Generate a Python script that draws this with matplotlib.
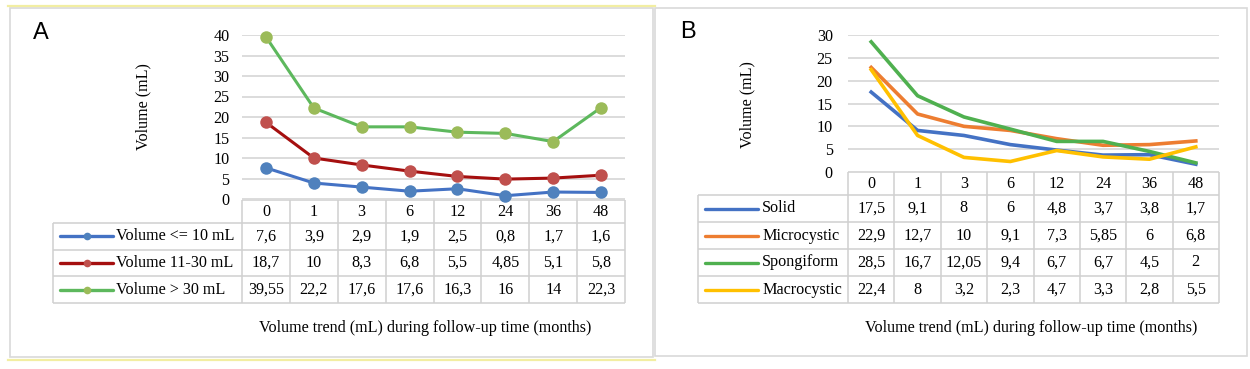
import matplotlib.pyplot as plt
from matplotlib.patches import Rectangle

# data
months = ['0', '1', '3', '6', '12', '24', '36', '48']

size_labels = ['Volume <= 10 mL', 'Volume 11-30 mL', 'Volume > 30 mL']
vol_small = [7.6, 3.9, 2.9, 1.9, 2.5, 0.8, 1.7, 1.6]
vol_mid = [18.7, 10, 8.3, 6.8, 5.5, 4.85, 5.1, 5.8]
vol_large = [39.55, 22.2, 17.6, 17.6, 16.3, 16, 14, 22.3]

type_labels = ['Solid', 'Microcystic', 'Spongiform', 'Macrocystic']
solid = [17.5, 9.1, 8, 6, 4.8, 3.7, 3.8, 1.7]
microcystic = [22.9, 12.7, 10, 9.1, 7.3, 5.85, 6, 6.8]
spongiform = [28.5, 16.7, 12.05, 9.4, 6.7, 6.7, 4.5, 2]
macrocystic = [22.4, 8, 3.2, 2.3, 4.7, 3.3, 2.8, 5.5]

W, H = 1250, 369
SERIF = ['Liberation Serif', 'DejaVu Serif']
FS = 11.6
GRID = '#D9D9D9'
TABLE = '#D0D0D0'

fig = plt.figure(figsize=(W / 100, H / 100), dpi=100)

# overlay axes in pixel coordinates for frames and the data tables
ov = fig.add_axes([0, 0, 1, 1], zorder=1)
ov.set_xlim(0, W)
ov.set_ylim(H, 0)
ov.axis('off')


def fmt(v):
    return f'{v:g}'.replace('.', ',')


def plot_axes(left, right, top, bottom):
    ax = fig.add_axes([left / W, 1 - bottom / H, (right - left) / W, (bottom - top) / H], zorder=5)
    ax.patch.set_alpha(0)
    for s in ax.spines.values():
        s.set_visible(False)
    ax.set_xlim(-0.5, len(months) - 0.5)
    ax.set_xticks([])
    ax.tick_params(axis='y', length=0, labelsize=FS)
    ax.grid(axis='y', color=GRID, lw=1.3)
    ax.set_axisbelow(True)
    return ax


def draw_table(leg_left, x0, x1, top, head_h, row_h, labels, series, colors, swatch, text_x, marker_colors=None):
    n = len(months)
    edges = [x0 + (x1 - x0) * i / n for i in range(n + 1)]
    y_rows = [top + head_h + row_h * i for i in range(len(series) + 1)]
    kw = dict(color=TABLE, lw=1.1, solid_capstyle='butt')
    # header row
    ov.plot([x0, x1], [top, top], **kw)
    for e in edges:
        ov.plot([e, e], [top, y_rows[-1]], **kw)
    for i, m in enumerate(months):
        ov.text((edges[i] + edges[i + 1]) / 2, top + head_h / 2 + 1, m, ha='center', va='center',
                fontsize=FS, family=SERIF)
    # body rows
    for y in y_rows:
        ov.plot([leg_left, x1], [y, y], **kw)
    ov.plot([leg_left, leg_left], [y_rows[0], y_rows[-1]], **kw)
    for r, (lab, vals, col) in enumerate(zip(labels, series, colors)):
        yc = (y_rows[r] + y_rows[r + 1]) / 2
        ov.plot(swatch, [yc, yc], color=col, lw=2.4, solid_capstyle='round')
        if marker_colors:
            ov.plot([(swatch[0] + swatch[1]) / 2], [yc], 'o', ms=5.5, color=marker_colors[r], mew=0)
        ov.text(text_x, yc, lab, ha='left', va='center', fontsize=FS, family=SERIF)
        for i, v in enumerate(vals):
            ov.text((edges[i] + edges[i + 1]) / 2, yc, fmt(v), ha='center', va='center',
                    fontsize=FS, family=SERIF)


# panel frames
ov.add_patch(Rectangle((9.5, 7.5), 643, 349.5, fill=False, ec=GRID, lw=1.2))
ov.add_patch(Rectangle((654.5, 7.5), 592, 348.5, fill=False, ec=GRID, lw=1.2))
ov.plot([8, 655], [5.5, 5.5], color='#F2EEA2', lw=1.6)
ov.plot([8, 655], [359.5, 359.5], color='#F2EEA2', lw=1.6)

# ---- panel A
axA = plot_axes(242, 625, 35, 199)
axA.set_ylim(0, 40)
axA.set_yticks(range(0, 41, 5))
axA.tick_params(axis='y', pad=9)
for lab in axA.get_yticklabels():
    lab.set_family(SERIF)
lineA = ['#4472C4', '#A50F0F', '#5DB85D']
markA = ['#4F81BD', '#C0504D', '#9BBB59']
x = range(len(months))
for vals, lc, mc in zip([vol_small, vol_mid, vol_large], lineA, markA):
    axA.plot(x, vals, color=lc, lw=2.2, marker='o', ms=9, mfc=mc, mec=mc, mew=0, clip_on=False)

ov.text(33, 33, 'A', fontsize=17, family=['Liberation Sans', 'DejaVu Sans'], va='center', ha='left')
ov.text(143, 107, 'Volume (mL)', rotation=90, ha='center', va='center', fontsize=FS, family=SERIF)
draw_table(53, 242, 625, 200, 23, 26.7, size_labels, [vol_small, vol_mid, vol_large], lineA,
           (60, 113), 116, marker_colors=markA)
ov.text(425, 328, 'Volume trend (mL) during follow-up time (months)', ha='center', va='center',
        fontsize=FS, family=SERIF)

# ---- panel B
axB = plot_axes(848, 1219, 35, 172)
axB.set_ylim(0, 30)
axB.set_yticks(range(0, 31, 5))
axB.tick_params(axis='y', pad=11)
for lab in axB.get_yticklabels():
    lab.set_family(SERIF)
lineB = ['#4472C4', '#ED7D31', '#4FB04F', '#FFC000']
for vals, lc in zip([solid, microcystic, spongiform, macrocystic], lineB):
    axB.plot(x, vals, color=lc, lw=2.6, solid_joinstyle='round', clip_on=False)

ov.text(680, 32, 'B', fontsize=17, family=['Liberation Sans', 'DejaVu Sans'], va='center', ha='left')
ov.text(747, 105, 'Volume (mL)', rotation=90, ha='center', va='center', fontsize=FS, family=SERIF)
draw_table(698, 848, 1219, 172, 23, 27, type_labels, [solid, microcystic, spongiform, macrocystic],
           lineB, (705, 758), 762)
ov.text(1031, 328, 'Volume trend (mL) during follow-up time (months)', ha='center', va='center',
        fontsize=FS, family=SERIF)

fig.savefig('out.png', dpi=100)
